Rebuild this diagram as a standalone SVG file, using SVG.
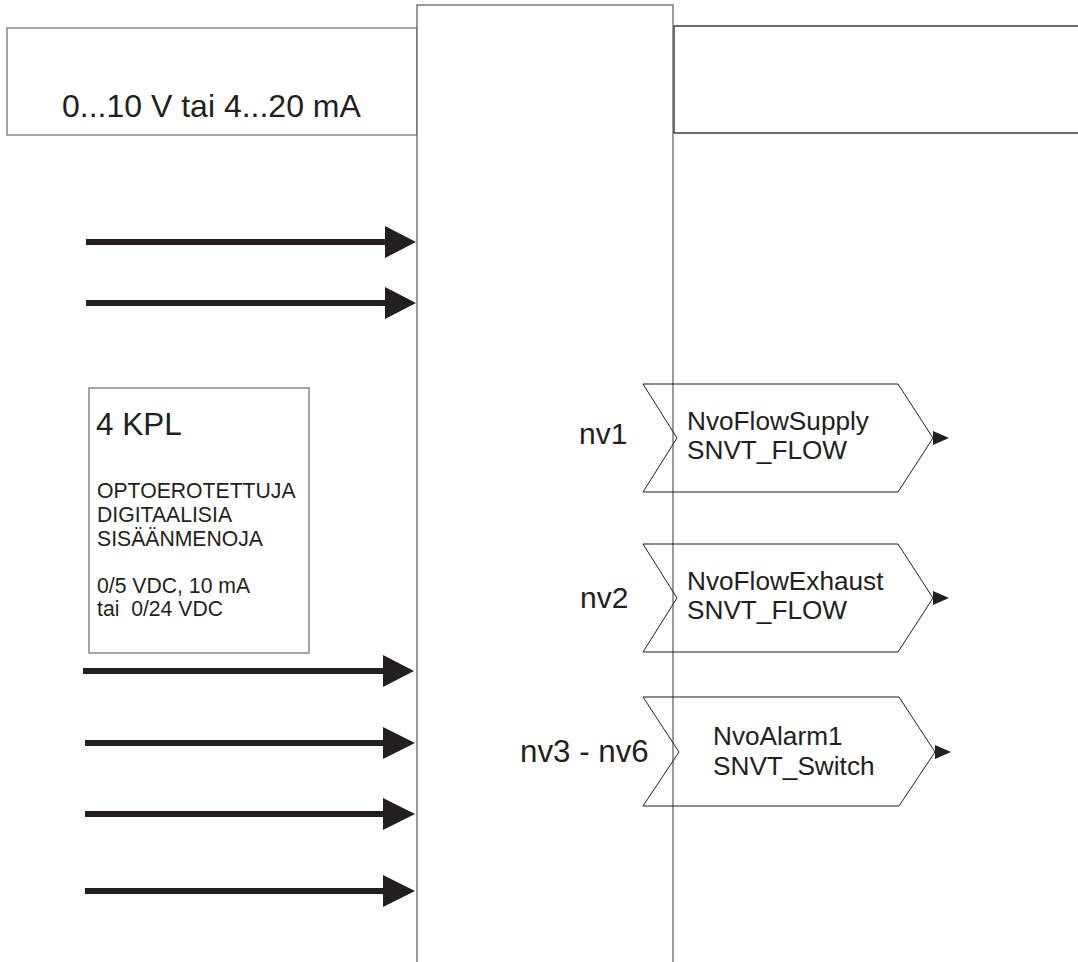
<svg xmlns="http://www.w3.org/2000/svg" width="1078" height="962" viewBox="0 0 1078 962">
<defs>
<style>
text{font-family:"Liberation Sans",Arial,sans-serif;fill:#231f20}
.box{fill:#fff;stroke:#777;stroke-width:1.3}
.dark{fill:#fff;stroke:#231f20;stroke-width:1.3}
.nv{fill:none;stroke:#231f20;stroke-width:1}
.arr{stroke:#231f20;stroke-width:6;fill:none}
.head{fill:#231f20}
</style>
</defs>
<rect width="1078" height="962" fill="#fff"/>
<g id="input-box">
<rect class="box" x="7" y="28" width="410" height="107"/>
<text x="62" y="117" font-size="32">0...10 V tai 4...20 mA</text>
</g>
<g id="output-box">
<rect class="dark" x="674" y="26" width="410" height="107"/>
</g>
<g id="controller">
<rect x="417" y="5" width="256" height="970" fill="#fff" stroke="#666" stroke-width="1.3"/>
</g>
<g id="di-box">
<rect class="box" x="89" y="388" width="220" height="265"/>
<text x="96" y="435" font-size="31.5">4 KPL</text>
<text font-size="21.2"><tspan x="97" y="498">OPTOEROTETTUJA</tspan><tspan x="97" y="522">DIGITAALISIA</tspan><tspan x="97" y="546">SISÄÄNMENOJA</tspan></text>
<text font-size="21.2" xml:space="preserve"><tspan x="97" y="593">0/5 VDC, 10 mA</tspan><tspan x="97" y="616">tai  0/24 VDC</tspan></text>
</g>
<g id="connectors">
<line class="arr" x1="86" y1="242" x2="388" y2="242"/><polygon class="head" points="385,226 416,242 385,258"/>
<line class="arr" x1="86" y1="303" x2="388" y2="303"/><polygon class="head" points="385,287 416,303 385,319"/>
<line class="arr" x1="83" y1="671" x2="386" y2="671"/><polygon class="head" points="383,655 414,671 383,687"/>
<line class="arr" x1="85" y1="743" x2="386" y2="743"/><polygon class="head" points="383,727 415,743 383,759"/>
<line class="arr" x1="85" y1="814" x2="386" y2="814"/><polygon class="head" points="383,798 415,814 383,830"/>
<line class="arr" x1="85" y1="891" x2="386" y2="891"/><polygon class="head" points="383,875 415,891 383,907"/>
<polygon class="head" points="933,431 949,438 933,445"/>
<polygon class="head" points="933,591 949,598 933,605"/>
<polygon class="head" points="935,745 951,752 935,759"/>
</g>
<g id="nv1">
<polygon class="nv" points="643,384 898,384 933,438 898,492 643,492 677,438"/>
<text x="579" y="444" font-size="30">nv1</text>
<text font-size="26.2"><tspan x="687" y="430">NvoFlowSupply</tspan><tspan x="687" y="459">SNVT_FLOW</tspan></text>
</g>
<g id="nv2">
<polygon class="nv" points="643,544 898,544 933,598 898,652 643,652 677,598"/>
<text x="580" y="608" font-size="30">nv2</text>
<text font-size="26.2"><tspan x="687" y="590">NvoFlowExhaust</tspan><tspan x="687" y="619">SNVT_FLOW</tspan></text>
</g>
<g id="nv3-nv6">
<polygon class="nv" points="643,697 899,697 935,752 899,806 643,806 679,752"/>
<text x="520" y="762" font-size="31.3">nv3 - nv6</text>
<text font-size="26.2"><tspan x="713" y="745">NvoAlarm1</tspan><tspan x="713" y="775">SNVT_Switch</tspan></text>
</g>
</svg>
